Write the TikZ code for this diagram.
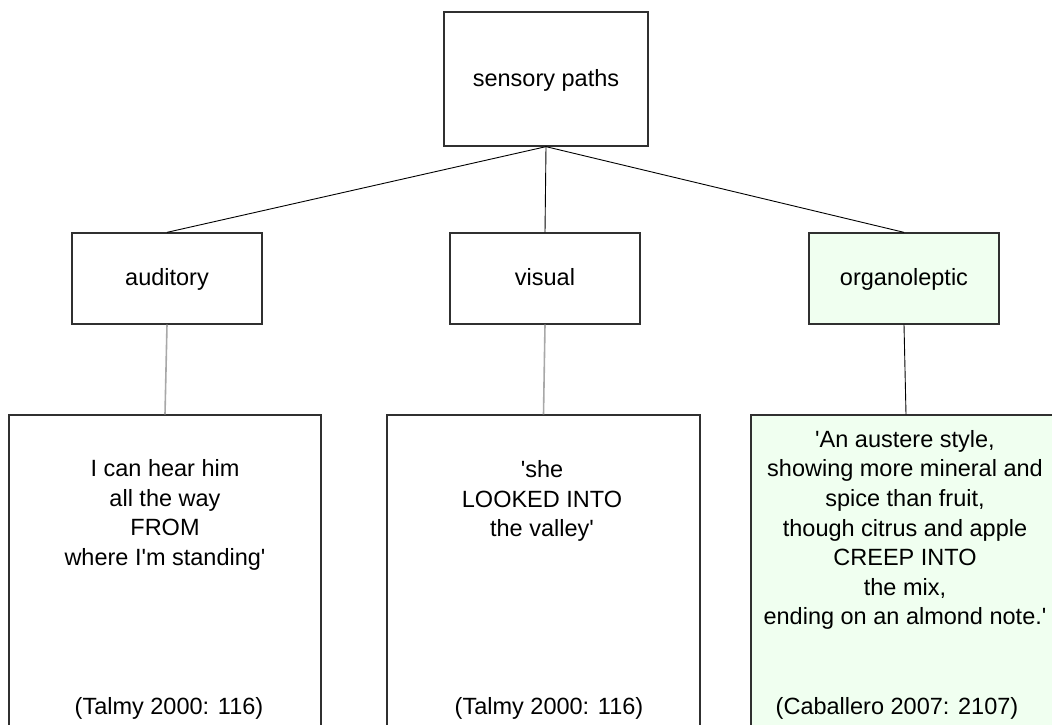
\documentclass[tikz,border=0pt]{standalone}
\usepackage{fontspec}
\setmainfont{Liberation Sans}
\definecolor{boxline}{HTML}{303030}
\definecolor{softgreen}{HTML}{F0FFF0}
\definecolor{paleline}{HTML}{A8A8A8}
\newcommand{\sq}{\textquotesingle}
\begin{document}
\begin{tikzpicture}[x=1pt,y=-1pt,
  every node/.style={font=\fontsize{23.5}{29.6}\selectfont, text=black},
  box/.style={draw=boxline, line width=1.3pt, fill=white, inner sep=0pt},
  greenbox/.style={box, fill=softgreen},
  labelbox/.style={box, text height=18pt, text depth=4pt, minimum width=190pt, minimum height=91pt},
  quote/.style={align=center, inner sep=0pt},
  cite/.style={anchor=base, inner sep=0pt},
  link/.style={draw=black, line width=0.9pt},
  palelink/.style={draw=paleline, line width=1.6pt}]
\useasboundingbox (0,0) rectangle (1052,725);
\clip (0,0) rectangle (1052,725);
% top level
\node[box, text height=18pt, text depth=4pt, minimum width=204pt, minimum height=134pt] (root) at (546,79) {sensory paths};
% second level
\node[labelbox] (aud) at (167,278.5) {auditory};
\node[labelbox] (vis) at (545,278.5) {visual};
\node[labelbox, fill=softgreen] (org) at (904,278.5) {organoleptic};
% third level boxes (run past the bottom edge)
\node[box, minimum width=312pt, minimum height=380pt] (audq) at (165,605) {};
\node[box, minimum width=313pt, minimum height=380pt] (visq) at (543.5,605) {};
\node[greenbox, minimum width=310pt, minimum height=380pt] (orgq) at (906,605) {};
% connectors
\draw[link] (root.south) -- (aud.north);
\draw[link] (root.south) -- (vis.north);
\draw[link] (root.south) -- (org.north);
\draw[palelink] (aud.south) -- (audq.north);
\draw[palelink] (vis.south) -- (visq.north);
\draw[link] (org.south) -- (orgq.north);
% quote texts
\node[quote] (audt) at (165,515) {I can hear him\\all the way\\FROM\\where I\sq m standing\sq};
\node[quote] (vist) at (542,501) {\sq she\\LOOKED INTO\\the valley\sq};
\node[quote] (orgt) at (905,530) {\sq An austere style,\\showing more mineral and\\spice than fruit,\\though citrus and apple\\CREEP INTO\\the mix,\\ending on an almond note.\sq};
% citations
\node[cite] (audc) at (169,714) {(Talmy 2000: 116)};
\node[cite] (visc) at (549,714) {(Talmy 2000: 116)};
\node[cite] (orgc) at (897,714) {(Caballero 2007: 2107)};
\end{tikzpicture}
\end{document}
